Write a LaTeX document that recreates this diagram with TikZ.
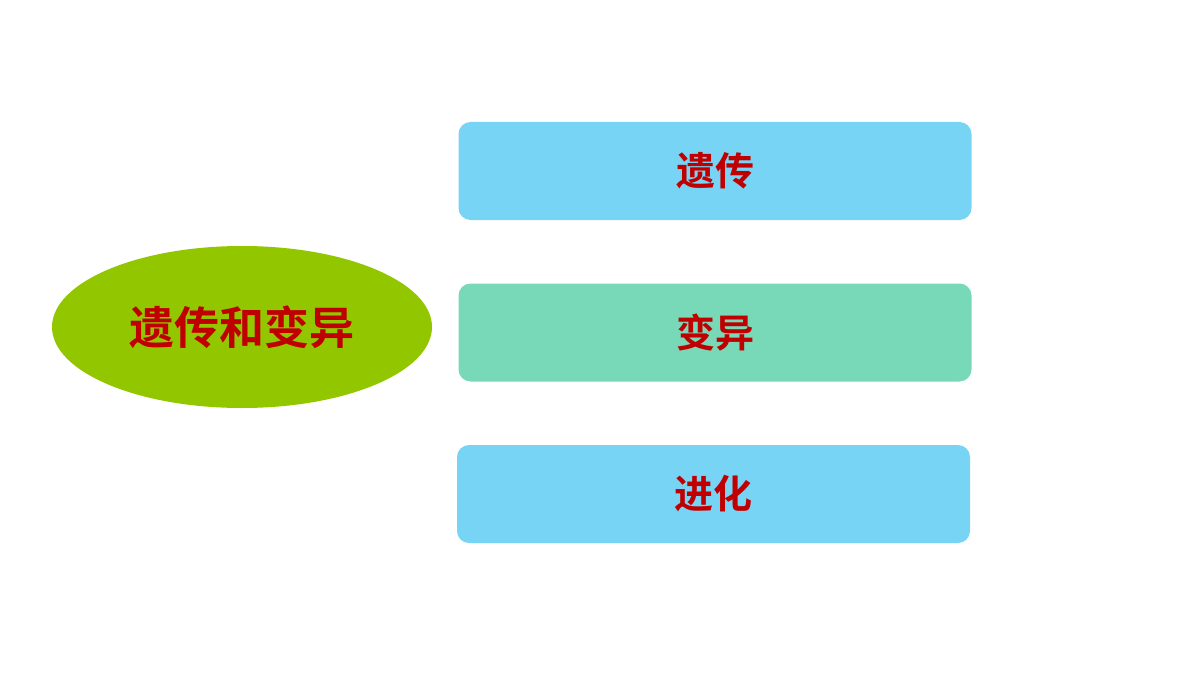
\documentclass[tikz,border=0pt]{standalone}
\usepackage{fontspec}
\newfontfamily\cjk{Noto Sans CJK SC}[BoldFont={Noto Sans CJK SC Bold}]
\usetikzlibrary{shapes.geometric}
\definecolor{skyb}{HTML}{78D4F5}
\definecolor{mint}{HTML}{77D9B7}
\definecolor{leaf}{HTML}{92C700}
\definecolor{txtred}{HTML}{C00000}
\tikzset{
  topic/.style={ellipse, fill=leaf, minimum width=380bp, minimum height=162bp, inner sep=0pt,
    text=txtred, font=\cjk\bfseries\fontsize{45bp}{50bp}\selectfont},
  itembox/.style={rounded corners=12bp, minimum width=513bp, minimum height=98bp, inner sep=0pt,
    text=txtred, font=\cjk\bfseries\fontsize{39bp}{44bp}\selectfont}
}
\begin{document}
\begin{tikzpicture}[x=1bp,y=-1bp]
\useasboundingbox (0,0) rectangle (1200,675);
\node[topic] (main) at (242,327) {遗传和变异};
\node[itembox, fill=skyb] (yc) at (715,171) {遗传};
\node[itembox, fill=mint] (by) at (715,332.5) {变异};
\node[itembox, fill=skyb] (jh) at (713.5,494) {进化};
\end{tikzpicture}
\end{document}
